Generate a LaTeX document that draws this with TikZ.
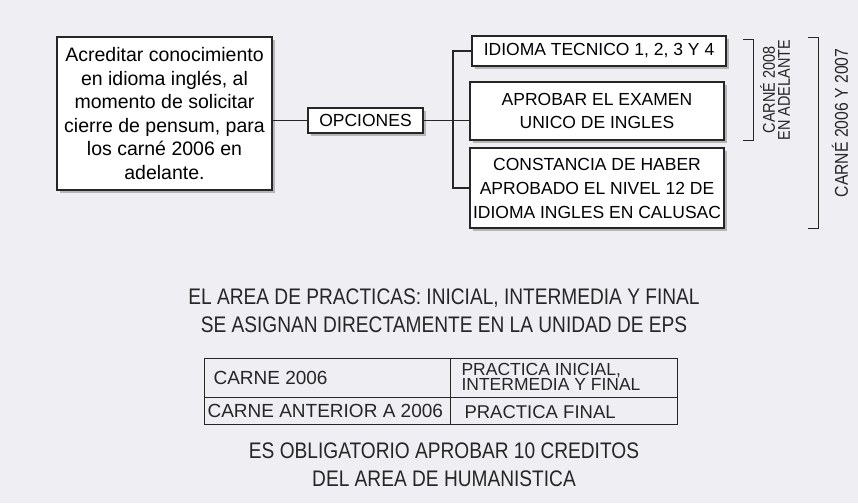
\documentclass[tikz,border=0pt]{standalone}
\usepackage{fontspec}
\setmainfont{Liberation Sans}
\usetikzlibrary{shadows}
\definecolor{bg}{HTML}{EEEEF3}
\tikzset{
 bx/.style={draw=black!85,line width=1.3pt,fill=white,align=center,inner sep=0pt,drop shadow={shadow xshift=3pt,shadow yshift=-3pt,opacity=0.5}},
 ln/.style={line width=1.3pt,black!85},
 big/.style={font=\fontsize{22.5}{28}\selectfont\addfontfeature{FakeStretch=0.85},align=center,black!85},
}
\begin{document}
\begin{tikzpicture}[x=1pt,y=-1pt]
\fill[bg] (0,0) rectangle (858,503);
\useasboundingbox (0,0) rectangle (858,503);
\node[bx,minimum width=215,minimum height=153,font=\fontsize{19.5}{23.6}\selectfont] (req) at (164.5,113.5) {Acreditar conocimiento\\en idioma inglés, al\\momento de solicitar\\cierre de pensum, para\\los carné 2006 en\\adelante.};
\node[bx,minimum width=115,minimum height=25,font=\fontsize{17.5}{18}\selectfont] (op) at (365.5,120.5) {OPCIONES};
\node[bx,minimum width=254,minimum height=30,font=\fontsize{17.5}{18}\selectfont] (o1) at (599,51) {IDIOMA TECNICO 1, 2, 3 Y 4};
\node[bx,minimum width=254,minimum height=58,font=\fontsize{17.5}{23}\selectfont] (o2) at (597,111) {APROBAR EL EXAMEN\\UNICO DE INGLES};
\node[bx,minimum width=254,minimum height=80,font=\fontsize{17.5}{24}\selectfont] (o3) at (597,188) {CONSTANCIA DE HABER\\APROBADO EL NIVEL 12 DE\\IDIOMA INGLES EN CALUSAC};
\coordinate (j) at (453,120.5);
\draw[ln] (req.east|-op) -- (op.west);
\draw[ln] (op.east) -- (j);
\draw[ln] (o1.west) -| (j) |- (o3.west);
\draw[ln] (j) -- (j-|o2.west);
% brackets
\coordinate (b1t) at (743,40); \coordinate (b1b) at (743,140);
\draw[line width=1pt,black!85] (b1t) -- ++(10,0) |- (b1b);
\node[rotate=90,font=\fontsize{17}{15}\selectfont\addfontfeature{FakeStretch=0.85},align=center,black!85] (c1) at (775,90) {CARNÉ 2008\\EN ADELANTE};
\coordinate (b2t) at (808,38); \coordinate (b2b) at (808,228);
\draw[line width=1pt,black!85] (b2t) -- ++(10,0) |- (b2b);
\node[rotate=90,font=\fontsize{18.5}{15}\selectfont\addfontfeature{FakeStretch=0.85},black!85] (c2) at (840,123) {CARNÉ 2006 Y 2007};
% texts
\node[big] (t1) at (444,311) {EL AREA DE PRACTICAS: INICIAL, INTERMEDIA Y FINAL\\SE ASIGNAN DIRECTAMENTE EN LA UNIDAD DE EPS};
\draw[line width=1pt,black!85] (204,358) rectangle (677,424);
\draw[line width=1pt,black!85] (204,397) -- (677,397) (450,358) -- (450,424);
\node[anchor=west,font=\fontsize{19}{19}\selectfont,black!85] (r1a) at (210,378) {CARNE 2006};
\node[anchor=west,font=\fontsize{17.5}{14}\selectfont,align=left,black!85] (r1b) at (458,377) {PRACTICA INICIAL,\\INTERMEDIA Y FINAL};
\node[anchor=west,font=\fontsize{19}{19}\selectfont,black!85] (r2a) at (204,411) {CARNE ANTERIOR A 2006};
\node[anchor=west,font=\fontsize{18.5}{19}\selectfont,black!85] (r2b) at (461,412) {PRACTICA FINAL};
\node[big] (t2) at (444,465) {ES OBLIGATORIO APROBAR 10 CREDITOS\\DEL AREA DE HUMANISTICA};
\end{tikzpicture}
\end{document}
